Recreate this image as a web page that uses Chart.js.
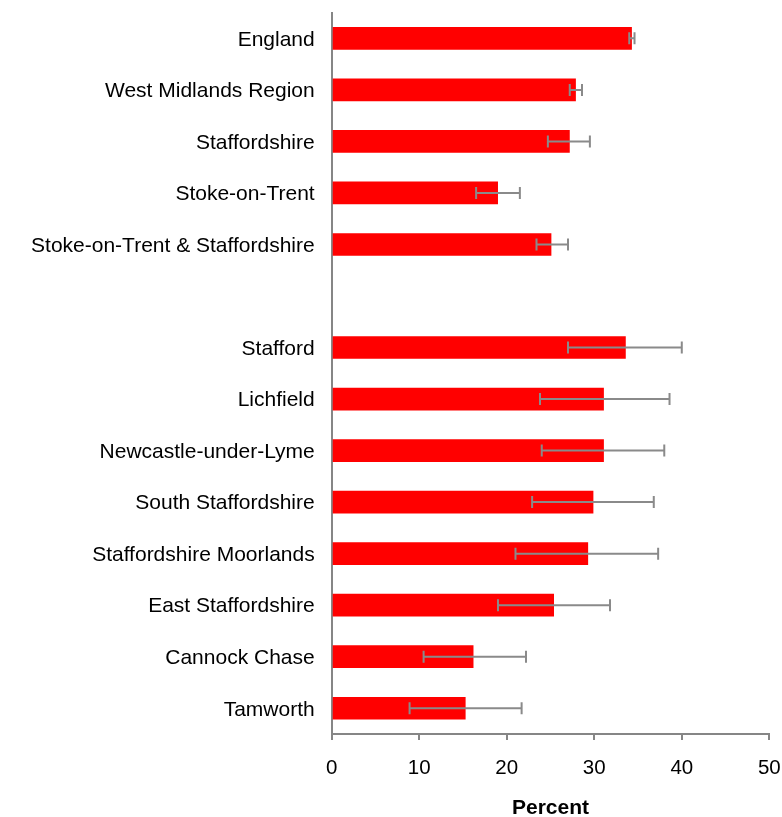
<!DOCTYPE html>
<html>
<head>
<meta charset="utf-8">
<script src="https://cdn.jsdelivr.net/npm/chart.js@4/dist/chart.umd.min.js"></script>
<style>
  body { margin: 0; background: #fff; }
  #wrap { width: 782px; height: 817px; position: relative; }
</style>
</head>
<body>
<div id="wrap"><canvas id="barres"></canvas></div>
<script>
// areas, top to bottom (the empty one is the gap between the two groups)
const areas = [
  'England',
  'West Midlands Region',
  'Staffordshire',
  'Stoke-on-Trent',
  'Stoke-on-Trent & Staffordshire',
  '',
  'Stafford',
  'Lichfield',
  'Newcastle-under-Lyme',
  'South Staffordshire',
  'Staffordshire Moorlands',
  'East Staffordshire',
  'Cannock Chase',
  'Tamworth'
]

// percent values
const percent = [34.3, 27.9, 27.2, 19.0, 25.1, null, 33.6, 31.1, 31.1, 29.9, 29.3, 25.4, 16.2, 15.3]

// confidence interval limits
const lowerCI = [34.0, 27.2, 24.7, 16.5, 23.4, null, 27.0, 23.8, 24.0, 22.9, 21.0, 19.0, 10.5, 8.9]
const upperCI = [34.6, 28.6, 29.5, 21.5, 27.0, null, 40.0, 38.6, 38.0, 36.8, 37.3, 31.8, 22.2, 21.7]

const xTicks = [0, 10, 20, 30, 40, 50]

const gris = '#868686'

// draws the error bars from lowerCI / upperCI
const errorBars = {
  id: 'errorBars',
  afterDatasetsDraw(chart) {
    const ctx = chart.ctx
    const x = chart.scales.x
    const y = chart.scales.y
    ctx.save()
    ctx.strokeStyle = '#8a8a8a'
    ctx.lineWidth = 2
    for (let i = 0; i < areas.length; i++) {
      if (lowerCI[i] == null) continue
      const yc = y.getPixelForValue(i)
      const x1 = x.getPixelForValue(lowerCI[i])
      const x2 = x.getPixelForValue(upperCI[i])
      ctx.beginPath()
      ctx.moveTo(x1, yc)
      ctx.lineTo(x2, yc)
      ctx.moveTo(x1, yc - 6)
      ctx.lineTo(x1, yc + 6)
      ctx.moveTo(x2, yc - 6)
      ctx.lineTo(x2, yc + 6)
      ctx.stroke()
    }
    ctx.restore()
  }
}

new Chart(
  document.getElementById('barres'),
  {
    type: 'bar',
    data: {
      labels: areas,
      datasets: [
        {
          label: 'Percent',
          data: percent,
          backgroundColor: '#FF0000',
          borderWidth: 0,
          categoryPercentage: 1,
          barPercentage: 0.44
        }
      ]
    },
    options: {
      indexAxis: 'y',
      responsive: true,
      maintainAspectRatio: false,
      animation: false,
      layout: { padding: { top: 12.6, right: 12.7, bottom: 0, left: 0 } },
      plugins: {
        legend: { display: false },
        tooltip: { enabled: false }
      },
      scales: {
        x: {
          min: 0,
          max: 50,
          afterBuildTicks: s => { s.ticks = xTicks.map(v => ({ value: v })) },
          afterFit: s => {
            s.height = 83
            s.paddingLeft = 0
            s.paddingRight = 0
          },
          grid: {
            drawOnChartArea: false,
            drawTicks: true,
            tickLength: 6,
            color: gris,
            lineWidth: 2
          },
          border: { display: true, color: gris, width: 2 },
          ticks: {
            color: '#000',
            padding: 16,
            maxRotation: 0,
            font: { family: 'Liberation Sans', size: 20.5 }
          },
          title: {
            display: true,
            text: 'Percent',
            color: '#000',
            padding: 0,
            font: { family: 'Liberation Sans', size: 21, weight: 'bold', lineHeight: 0.8 }
          }
        },
        y: {
          afterFit: s => {
            s.width = 331.7
            s.paddingTop = 0
            s.paddingBottom = 0
          },
          grid: { drawOnChartArea: false, drawTicks: false },
          border: { display: true, color: gris, width: 2 },
          ticks: {
            color: '#000',
            padding: 17,
            labelOffset: 1.5,
            autoSkip: false,
            font: { family: 'Liberation Sans', size: 21 }
          }
        }
      }
    },
    plugins: [errorBars]
  }
);
</script>
</body>
</html>
